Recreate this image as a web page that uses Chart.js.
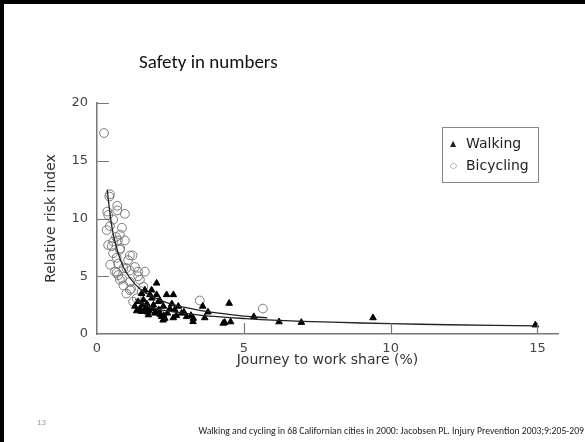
<!DOCTYPE html>
<html>
<head>
<meta charset="utf-8">
<script src="https://cdn.jsdelivr.net/npm/chart.js@4.4.1/dist/chart.umd.min.js"></script>
<style>
  html, body { margin: 0; padding: 0; background: #fff; }
  #slide { position: relative; width: 585px; height: 442px; overflow: hidden; }
  #wrap { position: absolute; left: 0; top: 0; width: 585px; height: 442px; }
  .frame {
    position: absolute; left: 0; top: 0; width: 585px; height: 460px; box-sizing: border-box;
    border-left: 4px solid #000; border-top: 4px solid #000; pointer-events: none;
  }
  .slideTitle {
    position: absolute; left: 139px; top: 50px; font-family: Carlito, "Liberation Sans", sans-serif;
    font-size: 19px; color: #111; white-space: nowrap;
  }
  .legendBox {
    position: absolute; left: 442px; top: 127px; width: 97px; height: 56px; border: 1px solid #888;
    font-family: "DejaVu Sans", sans-serif; font-size: 14px; color: #222; box-sizing: border-box;
  }
  .legendBox div { position: absolute; left: 7px; white-space: nowrap; }
  .legendBox .mk { display: inline-block; width: 16px; font-size: 8px; vertical-align: 2px; }
  .pageNum { position: absolute; left: 37px; top: 418px; font: 8px "Liberation Sans", sans-serif; color: #999; }
  .cite {
    position: absolute; right: 1px; top: 425px; font: 9.7px Carlito, "Liberation Sans", sans-serif; color: #222;
    white-space: nowrap;
  }
</style>
</head>
<body>
<div id="slide">
  <div id="wrap"><canvas id="myChart"></canvas></div>
  <div class="frame"></div>
  <div class="slideTitle">Safety in numbers</div>
  <div class="legendBox">
    <div style="top:7px"><span class="mk">▲</span>Walking</div>
    <div style="top:29px"><span class="mk" style="color:#777">○</span>Bicycling</div>
  </div>
  <div class="pageNum">13</div>
  <div class="cite">Walking and cycling in 68 Californian cities in 2000: Jacobsen PL. Injury Prevention 2003;9:205-209</div>
</div>
<script>
// walking share (%) vs relative risk index
const walkX = [1.29, 1.40, 1.46, 1.52, 1.52, 1.58, 1.63, 1.63, 1.70, 1.75, 1.80, 1.86, 1.87, 1.92, 1.97, 2.03,
  2.03, 2.09, 2.14, 2.20, 2.25, 2.26, 2.27, 2.31, 2.37, 2.48, 2.60, 2.60, 2.65, 2.77, 2.88, 2.96, 3.05, 3.20,
  3.27, 3.28, 3.60, 3.67, 3.78, 4.30, 4.35, 4.50, 4.55, 5.34, 6.20, 6.96, 9.40, 14.93,
  1.35, 1.55, 1.68, 1.78, 1.90, 2.00, 2.10, 2.40, 2.55, 2.70, 1.72, 2.15];
const walkY = [2.4, 2.8, 2.2, 1.95, 3.5, 2.95, 2.1, 3.8, 2.6, 1.65, 3.4, 3.8, 3.1, 2.5, 1.8, 4.4,
  3.4, 2.8, 2.9, 1.5, 1.2, 2.4, 1.6, 1.35, 3.4, 2.2, 3.4, 1.4, 2.1, 2.4, 1.8, 1.9, 1.5, 1.6,
  1.07, 1.35, 2.4, 1.4, 1.9, 0.93, 1.0, 2.65, 1.05, 1.5, 1.05, 1.0, 1.4, 0.78,
  2.0, 2.5, 2.3, 2.0, 2.2, 1.9, 2.1, 1.8, 2.6, 1.6, 1.9, 1.7];

// bicycling share (%) vs relative risk index
const bikeX = [0.24, 0.35, 0.38, 0.42, 0.44, 0.33, 0.44, 0.55, 0.69, 0.69, 0.95, 0.78, 0.95, 0.50, 0.55, 0.79,
  0.78, 0.55, 1.12, 1.21, 0.67, 1.06, 0.72, 0.90, 1.29, 0.61, 1.12, 1.63, 0.72, 1.40, 1.46, 0.90, 1.58, 1.12,
  1.00, 1.23, 3.50, 5.65, 0.38, 0.71, 1.00, 1.40, 0.67, 1.12, 0.78, 1.52, 1.16, 1.35, 0.45, 0.85, 0.65, 0.85];
const bikeY = [17.4, 10.6, 10.3, 11.9, 12.1, 9.0, 9.35, 9.9, 11.1, 10.7, 10.4, 8.6, 8.1, 7.6, 8.0, 7.4,
  7.3, 7.0, 6.8, 6.8, 6.6, 6.4, 6.1, 5.7, 5.8, 5.4, 5.5, 5.4, 5.1, 5.0, 4.7, 4.2, 4.1, 3.8,
  3.5, 2.8, 2.9, 2.2, 7.7, 8.1, 5.7, 5.4, 5.3, 4.5, 4.7, 3.7, 3.9, 3.1, 6.0, 4.8, 8.4, 9.2];

// fitted curves
const bikeFitX = [0.35, 0.4, 0.5, 0.6, 0.8, 1.0, 1.3, 1.6, 2.0, 2.5, 3.0, 3.5, 4.0, 5.0, 5.8];
const bikeFitY = [12.5, 11.3, 9.4, 8.1, 6.4, 5.3, 4.3, 3.65, 3.1, 2.6, 2.3, 2.05, 1.85, 1.55, 1.4];
const walkFitX = [1.3, 1.6, 2.0, 2.5, 3.0, 3.5, 4.0, 5.0, 6.0, 8.0, 10, 12, 15];
const walkFitY = [3.0, 2.6, 2.2, 1.95, 1.78, 1.64, 1.52, 1.34, 1.2, 1.02, 0.9, 0.8, 0.7];

const xTicks = [0, 5, 10, 15];
const yTicks = [0, 5, 10, 15, 20];

const toPts = (xs, ys) => xs.map((x, i) => ({ x: x, y: ys[i] }));

const axisColor = '#777';

// tick marks point into the plot, like the original figure
const inwardTicks = {
  id: 'inwardTicks',
  afterDatasetsDraw(chart) {
    const { ctx, scales: { x, y } } = chart;
    ctx.save();
    ctx.strokeStyle = axisColor;
    ctx.lineWidth = 1.2;
    ctx.beginPath();
    yTicks.forEach(v => {
      if (v === 0) return;
      const py = Math.round(y.getPixelForValue(v)) + 0.5;
      ctx.moveTo(x.left, py);
      ctx.lineTo(x.left + 12, py);
    });
    xTicks.forEach(v => {
      if (v === 0) return;
      const px = Math.round(x.getPixelForValue(v)) + 0.5;
      ctx.moveTo(px, y.bottom);
      ctx.lineTo(px, y.bottom - 11);
    });
    ctx.stroke();
    ctx.restore();
  }
};

const canvas = document.getElementById('myChart');
const ctx = canvas.getContext('2d');

new Chart(ctx, {
  type: 'scatter',
  data: {
    datasets: [
      {
        label: 'Walking fit',
        data: toPts(walkFitX, walkFitY),
        showLine: true,
        borderColor: '#222',
        borderWidth: 1.3,
        pointRadius: 0,
        tension: 0.4,
        order: 1
      },
      {
        label: 'Bicycling fit',
        data: toPts(bikeFitX, bikeFitY),
        showLine: true,
        borderColor: '#222',
        borderWidth: 1.3,
        pointRadius: 0,
        tension: 0.4,
        order: 2
      },
      {
        label: 'Walking',
        data: toPts(walkX, walkY),
        pointStyle: 'triangle',
        pointRadius: 3.8,
        backgroundColor: '#000',
        borderColor: '#000',
        borderWidth: 1,
        order: 3
      },
      {
        label: 'Bicycling',
        data: toPts(bikeX, bikeY),
        pointStyle: 'circle',
        pointRadius: 4.4,
        backgroundColor: 'rgba(255,255,255,0)',
        borderColor: '#7a7a7a',
        borderWidth: 1,
        order: 4
      }
    ]
  },
  options: {
    responsive: true,
    maintainAspectRatio: false,
    animation: false,
    layout: { padding: { top: 103, right: 27, left: 0, bottom: 0 } },
    plugins: {
      legend: { display: false },
      tooltip: { enabled: false }
    },
    scales: {
      x: {
        type: 'linear',
        min: 0,
        max: 15.7,
        afterBuildTicks: scale => { scale.ticks = xTicks.map(v => ({ value: v })); },
        afterFit: scale => { scale.height = 108; },
        grid: { drawOnChartArea: false, drawTicks: false },
        border: { display: true, color: axisColor, width: 1.5 },
        ticks: { padding: 7, color: '#444', font: { family: 'DejaVu Sans', size: 13 } },
        title: {
          display: true,
          text: 'Journey to work share (%)',
          color: '#333',
          font: { family: 'DejaVu Sans', size: 14 },
          padding: { top: 0, bottom: 73 }
        }
      },
      y: {
        type: 'linear',
        min: 0,
        max: 20,
        afterBuildTicks: scale => { scale.ticks = yTicks.map(v => ({ value: v })); },
        afterFit: scale => { scale.width = 97; },
        grid: { drawOnChartArea: false, drawTicks: false },
        border: { display: true, color: axisColor, width: 1.5 },
        ticks: { padding: 9, color: '#444', font: { family: 'DejaVu Sans', size: 13 } },
        title: {
          display: true,
          text: 'Relative risk index',
          color: '#333',
          font: { family: 'DejaVu Sans', size: 14 },
          padding: { top: 43, bottom: 0 }
        }
      }
    }
  },
  plugins: [inwardTicks]
});
</script>
</body>
</html>
